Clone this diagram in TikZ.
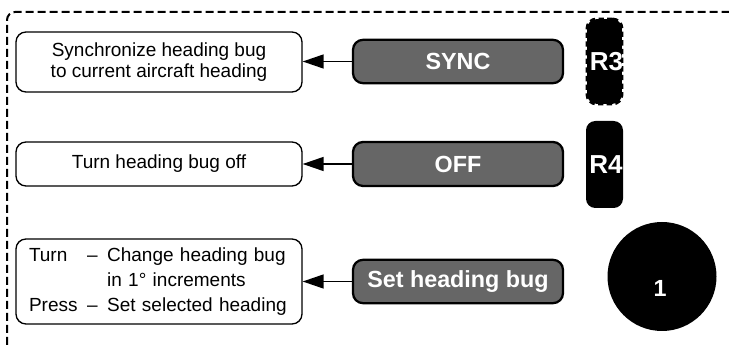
\documentclass[tikz,border=0pt]{standalone}
\usepackage{fontspec}
\setmainfont{Liberation Sans}
\usetikzlibrary{arrows.meta}
\definecolor{btngray}{RGB}{102,102,102}
\begin{document}
\begin{tikzpicture}[x=0.75pt,y=-0.75pt,
  infobox/.style={draw=black, line width=1pt, fill=white, rounded corners=7.5pt, minimum width=214.5pt, inner sep=0pt, font=\fontsize{14.25}{15.75}\selectfont, align=center},
  btn/.style={draw=black, line width=1.7pt, fill=btngray, rounded corners=7.5pt, minimum width=157.5pt, minimum height=32.5pt, inner sep=0pt, text=white, font=\bfseries\fontsize{17.5}{20}\selectfont},
  keyshape/.style={fill=black, rounded corners=7pt, minimum width=27.75pt, minimum height=65.25pt, inner sep=0pt},
  keytext/.style={text=white, inner sep=0pt, font=\bfseries\fontsize{19.5}{20}\selectfont},
  arr/.style={line width=1.1pt, -{Triangle[length=15.75pt,width=10.5pt]}},
  frame/.style={dash pattern=on 6pt off 3pt, line width=1.5pt, rounded corners=6pt}
]
\useasboundingbox (0,0) rectangle (729,345);
\draw[frame] (7,345) -- (7,12) -- (729,12);

\node[infobox, minimum height=45pt] (b1) at (159,62) {Synchronize heading bug\\to current aircraft heading};
\node[infobox, minimum height=33pt] (b2) at (159,164) {Turn heading bug off};
\node[infobox, minimum height=63.75pt, text width=195pt, inner xsep=9.75pt, align=left, font=\fontsize{14.25}{18.75}\selectfont] (b3) at (159,281.5) {\begin{tabular}{@{}l@{\hspace{0.5em}}l@{\hspace{0.5em}}l@{}}Turn & – & Change heading bug\\ & & in 1° increments\\ Press & – & Set selected heading\end{tabular}};

\node[btn] (sync) at (458,61.5) {SYNC};
\node[btn, minimum height=33pt] (off) at (458,164) {OFF};
\node[btn] (set) at (458,281.5) {Set heading bug};

\node[keyshape, draw=black, line width=2.4pt, dash pattern=on 4pt off 2.5pt, minimum width=26pt, minimum height=63.5pt] (r3) at (604.5,61.5) {};
\node[keytext] (r3label) at (606.5,62) {R3};
\node[keyshape] (r4) at (604.5,164.5) {};
\node[keytext] (r4label) at (606,164.5) {R4};
\node[circle, fill=black, minimum size=81.75pt, inner sep=0pt] (knob) at (662,276.5) {};
\node[keytext, font=\bfseries\fontsize{17.5}{20}\selectfont] (knoblabel) at (660,288) {1};

\draw[arr] (sync.west) -- (sync.west -| b1.east);
\draw[arr] (off.west) -- (off.west -| b2.east);
\draw[arr] (set.west) -- (set.west -| b3.east);
\end{tikzpicture}
\end{document}
